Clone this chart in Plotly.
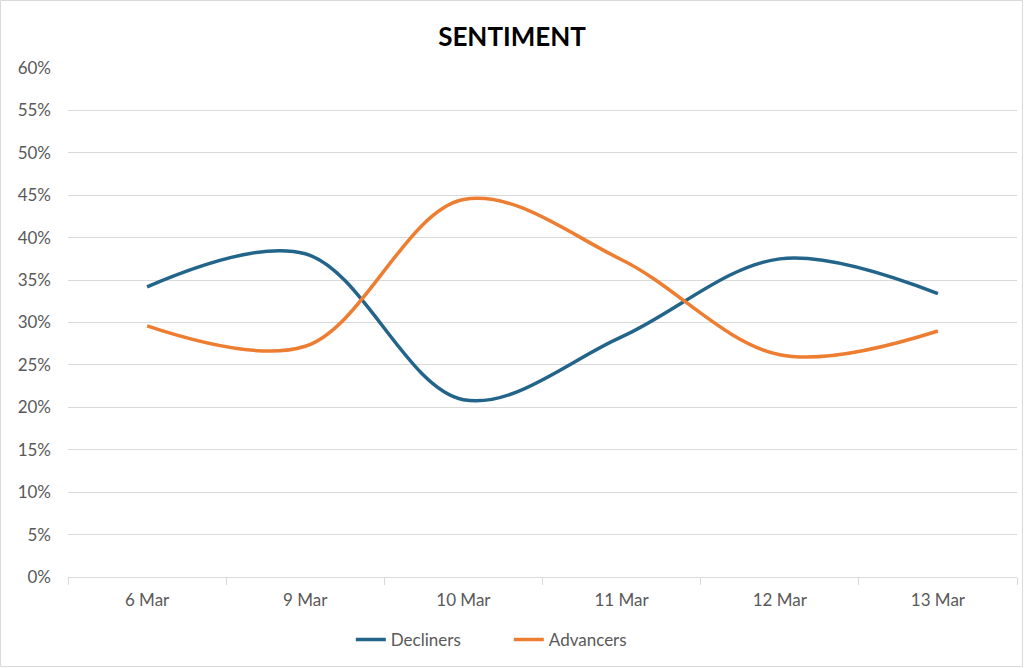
import plotly.graph_objects as go

categories = ["6 Mar", "9 Mar", "10 Mar", "11 Mar", "12 Mar", "13 Mar"]
decliners = [0.342, 0.381, 0.209, 0.283, 0.375, 0.334]
advancers = [0.296, 0.272, 0.445, 0.374, 0.262, 0.290]
y_ticks = [i * 0.05 for i in range(13)]

W, H = 1024, 668
L, R, T, B = 68, 7, 68, 91
pw = W - L - R
ph = H - T - B

FONT = "Lato"
fig = go.Figure()
fig.add_trace(go.Scatter(x=categories, y=decliners, name="Decliners", mode="lines",
                         line=dict(color="#23648A", width=3.5, shape="spline", smoothing=1.0)))
fig.add_trace(go.Scatter(x=categories, y=advancers, name="Advancers", mode="lines",
                         line=dict(color="#ED7D31", width=3.5, shape="spline", smoothing=1.0)))

fig.update_layout(
    width=W, height=H,
    margin=dict(l=L, r=R, t=T, b=B),
    paper_bgcolor="white", plot_bgcolor="white",
    font=dict(family=FONT, size=17, color="#595959"),
    title=dict(text="<b>SENTIMENT</b>", x=0.5, xanchor="center", y=1 - 37 / H, yanchor="middle",
               font=dict(family=FONT, size=26, color="black")),
    legend=dict(orientation="h", x=0.4645, xanchor="center", y=-(640 - 577) / ph, yanchor="middle",
                font=dict(family=FONT, size=17, color="#595959"),
                entrywidth=113, entrywidthmode="pixels"),
    showlegend=True,
    shapes=[dict(type="rect", xref="paper", yref="paper",
                 x0=-(L - 0.5) / pw, x1=1 + (R - 1.5) / pw,
                 y0=-(B - 1.5) / ph, y1=1 + (T - 0.5) / ph,
                 line=dict(color="#D9D9D9", width=1), fillcolor="rgba(0,0,0,0)", layer="below")],
)
fig.update_xaxes(type="category", range=[-0.5, len(categories) - 0.5],
                 showline=True, linecolor="#D9D9D9", linewidth=1,
                 ticks="outside", tickson="boundaries", ticklen=7, tickcolor="#D9D9D9",
                 showgrid=False, tickfont=dict(family=FONT, size=17, color="#595959"),
                 ticklabelstandoff=8)
fig.update_yaxes(range=[0, 0.6], tickvals=y_ticks, tickformat=".0%", showgrid=True,
                 gridcolor="#D9D9D9", gridwidth=1, zeroline=False, showline=False,
                 tickfont=dict(family=FONT, size=17, color="#595959"), ticklabelstandoff=16)

fig.write_html("out.html", config={"displayModeBar": False},
               post_script="document.body.style.margin='0';document.body.style.overflow='hidden';")
